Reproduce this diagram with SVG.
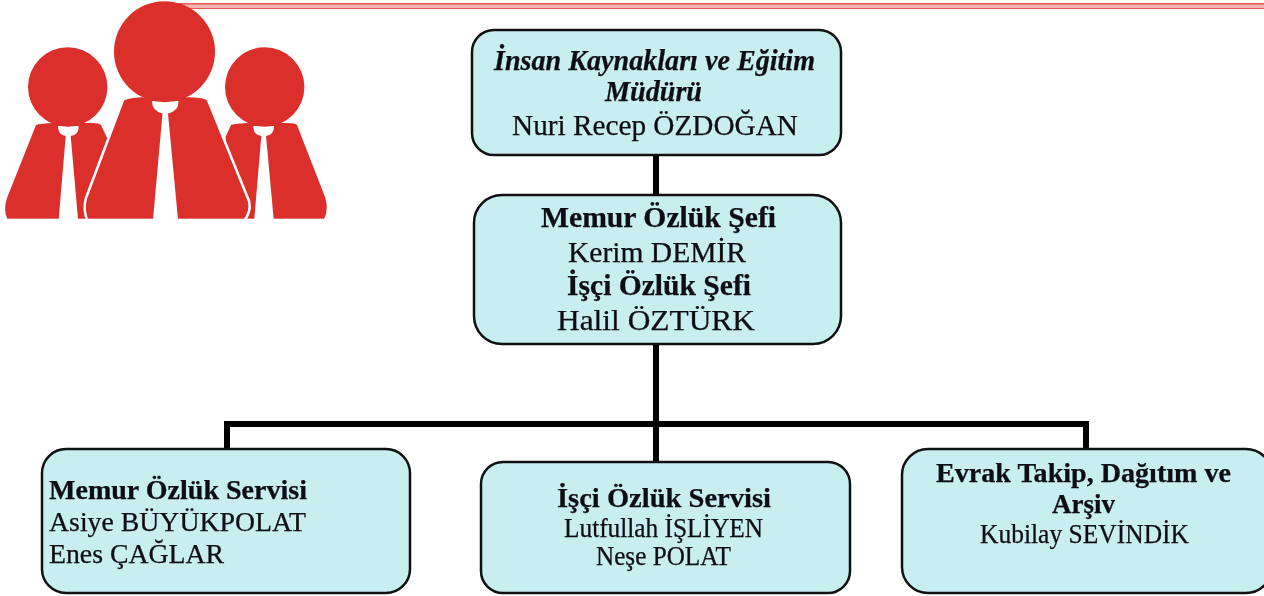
<svg xmlns="http://www.w3.org/2000/svg" width="1264" height="596" viewBox="0 0 1264 596">
<defs>
<filter id="soft" x="-5%" y="-10%" width="110%" height="120%"><feGaussianBlur stdDeviation="0.5"/></filter>
</defs>
<style>
.box{fill:#c8eef0;stroke:#111;stroke-width:2.5}
.t{font-family:"Liberation Serif","Times New Roman",serif;font-size:29px;fill:#0c0c14;stroke:#0c0c14;stroke-width:0.25;filter:url(#soft)}
.b{font-weight:bold}
.bi{font-weight:bold;font-style:italic}
.s{font-size:27px}
.red{fill:#da2f2a}
.wh{fill:#fff}
.conn{fill:none;stroke:#000;stroke-width:6}
</style>
<rect x="170" y="3.2" width="1094" height="5.8" fill="#f4b4b0"/>
<rect x="170" y="3.2" width="1094" height="1.2" fill="#d9433e"/>
<rect x="170" y="8" width="1094" height="1" fill="#e2605b"/>
<g id="people">
<path class="red" d="M36 125Q37 124 52 123L92 123Q100 123 101 125L108 140L100 219L7.300 219Q3 210 7 198Z"/>
<path class="red" d="M231 125Q232 124 247 123L287 123Q296 123 297 125L325 197Q329 210 324 219L235 219L225.500 137Z"/>
<path class="wh" d="M58 126L78.700 126Q79 135 70.700 136L78 219L58.700 219L65.700 136Q58 135 58 126Z"/>
<path class="wh" d="M253.300 126L274 126Q274 135 266 136L273.700 219L254.300 219L261.300 136Q253.300 135 253.300 126Z"/>
<path class="red" d="M123 100Q125 97.500 140 96L190 96Q206 96.500 208 100L249 201Q252 212 243 222L88 222Q82.500 210 86 198Z" stroke="#fff" stroke-width="2.500"/>
<path class="wh" d="M152 101L178.500 101Q179 111 168 113.500L178 219.500L153 219.500L162.500 113.500Q152 111 152 101Z"/>
<circle class="red" cx="67.700" cy="87" r="39.700"/>
<circle class="red" cx="264.700" cy="87" r="39.700"/>
<circle class="red" cx="164.500" cy="51.700" r="50.500"/>
<rect class="wh" x="0" y="218.700" width="340" height="6"/>
</g>
<g id="connectors">
<path class="conn" d="M656 155V195M656 344V462M227 449V424H1086V449"/>
</g>
<g id="node-mudur">
<rect class="box" x="472" y="30" width="369" height="125" rx="22"/>
<text class="t bi" x="494" y="70" textLength="321" lengthAdjust="spacingAndGlyphs">İnsan Kaynakları ve Eğitim</text>
<text class="t bi" x="605" y="101" textLength="97" lengthAdjust="spacingAndGlyphs">Müdürü</text>
<text class="t" x="512" y="135" textLength="286" lengthAdjust="spacingAndGlyphs">Nuri Recep ÖZDOĞAN</text>
</g>
<g id="node-sef">
<rect class="box" x="474" y="195" width="367" height="149" rx="28"/>
<text class="t b" x="541" y="227" textLength="235" lengthAdjust="spacingAndGlyphs">Memur Özlük Şefi</text>
<text class="t" x="568" y="262" textLength="178" lengthAdjust="spacingAndGlyphs">Kerim DEMİR</text>
<text class="t b" x="567" y="295" textLength="184" lengthAdjust="spacingAndGlyphs">İşçi Özlük Şefi</text>
<text class="t" x="557" y="330" textLength="198" lengthAdjust="spacingAndGlyphs">Halil ÖZTÜRK</text>
</g>
<g id="node-memur">
<rect class="box" x="42" y="449" width="368" height="144" rx="24"/>
<text class="t s b" x="49" y="499" textLength="258" lengthAdjust="spacingAndGlyphs">Memur Özlük Servisi</text>
<text class="t s" x="49" y="531" textLength="257" lengthAdjust="spacingAndGlyphs">Asiye BÜYÜKPOLAT</text>
<text class="t s" x="49" y="563" textLength="175" lengthAdjust="spacingAndGlyphs">Enes ÇAĞLAR</text>
</g>
<g id="node-isci">
<rect class="box" x="481" y="462" width="369" height="131" rx="22"/>
<text class="t s b" x="557" y="507" textLength="214" lengthAdjust="spacingAndGlyphs">İşçi Özlük Servisi</text>
<text class="t s" x="564" y="537" textLength="199" lengthAdjust="spacingAndGlyphs">Lutfullah İŞLİYEN</text>
<text class="t s" x="596" y="565" textLength="135" lengthAdjust="spacingAndGlyphs">Neşe POLAT</text>
</g>
<g id="node-evrak">
<rect class="box" x="902" y="449" width="370" height="144" rx="26"/>
<text class="t s b" x="936" y="482" textLength="295" lengthAdjust="spacingAndGlyphs">Evrak Takip, Dağıtım ve</text>
<text class="t s b" x="1052" y="513" textLength="63" lengthAdjust="spacingAndGlyphs">Arşiv</text>
<text class="t s" x="980" y="543" textLength="209" lengthAdjust="spacingAndGlyphs">Kubilay SEVİNDİK</text>
</g>
</svg>
